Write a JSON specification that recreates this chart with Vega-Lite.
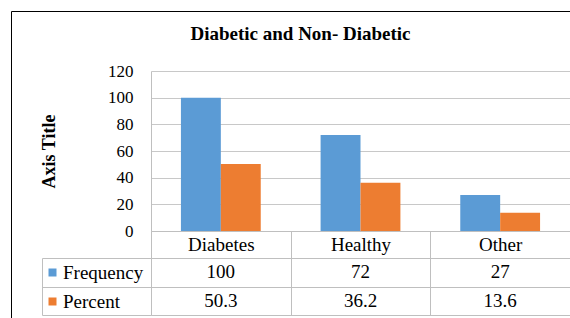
{
  "$schema": "https://vega.github.io/schema/vega-lite/v6.json",
  "autosize": {"type": "pad"},
  "padding": {"left": 10, "top": 10, "right": 0, "bottom": 0},
  "background": "white",
  "datasets": {
    "rows": [
      {"category": "Diabetes", "series": "Frequency", "value": 100},
      {"category": "Diabetes", "series": "Percent", "value": 50.3},
      {"category": "Healthy", "series": "Frequency", "value": 72},
      {"category": "Healthy", "series": "Percent", "value": 36.2},
      {"category": "Other", "series": "Frequency", "value": 27},
      {"category": "Other", "series": "Percent", "value": 13.6}
    ]
  },
  "spacing": 27,
  "bounds": "flush",
  "vconcat": [
    {
      "title": {"text": "Diabetic and Non- Diabetic", "font": "Times New Roman, Liberation Serif, DejaVu Serif, serif", "fontSize": 19, "fontWeight": "bold", "color": "black", "anchor": "middle", "dx": -60, "offset": 18},
      "width": 419,
      "height": 160,
      "data": {"name": "rows"},
      "mark": {"type": "bar"},
      "encoding": {
        "x": {"field": "category", "type": "nominal", "sort": ["Diabetes", "Healthy", "Other"],
          "scale": {"paddingInner": 0, "paddingOuter": 0},
          "axis": {"title": null, "labelAngle": 0, "tickBand": "extent", "tickSize": 27, "tickColor": "#bfbfbf", "domainColor": "#bfbfbf", "labelPadding": -13.5, "labelBaseline": "middle", "labelFont": "Times New Roman, Liberation Serif, DejaVu Serif, serif", "labelFontSize": 19, "labelColor": "black"}},
        "xOffset": {"field": "series", "type": "nominal", "sort": ["Frequency", "Percent"], "scale": {"paddingInner": 0, "paddingOuter": 0.75}},
        "y": {"field": "value", "type": "quantitative", "scale": {"domain": [0, 120], "nice": false},
          "axis": {"values": [0, 20, 40, 60, 80, 100, 120], "title": "Axis Title", "titleFont": "Times New Roman, Liberation Serif, DejaVu Serif, serif", "titleFontSize": 18, "titleFontWeight": "bold", "titleColor": "black", "titlePadding": 49, "labelFont": "Times New Roman, Liberation Serif, DejaVu Serif, serif", "labelFontSize": 17, "labelColor": "black", "labelPadding": 18, "ticks": false, "tickSize": 0, "domainColor": "#bfbfbf", "grid": true, "gridColor": "#c8c8c8"}},
        "color": {"field": "series", "type": "nominal", "sort": ["Frequency", "Percent"],
          "scale": {"domain": ["Frequency", "Percent"], "range": ["#5B9BD5", "#ED7D31"]},
          "legend": {"orient": "none", "legendX": -108, "legendY": 192, "title": null, "symbolType": "square", "symbolSize": 64, "symbolStrokeWidth": 0, "labelFont": "Times New Roman, Liberation Serif, DejaVu Serif, serif", "labelFontSize": 19, "labelColor": "black", "labelOffset": 1, "rowPadding": 9, "padding": 0}}
      }
    },
    {
      "width": 419,
      "height": 57,
      "data": {"name": "rows"},
      "resolve": {"axis": {"y": "independent"}},
      "layer": [
        {
          "mark": {"type": "text", "font": "Times New Roman, Liberation Serif, DejaVu Serif, serif", "fontSize": 19, "color": "black"},
          "encoding": {
            "x": {"field": "category", "type": "nominal", "sort": ["Diabetes", "Healthy", "Other"],
              "scale": {"paddingInner": 0, "paddingOuter": 0},
              "axis": {"orient": "top", "title": null, "grid": true, "tickBand": "extent", "gridColor": "#bfbfbf", "labels": false, "ticks": false, "domain": false}},
            "y": {"field": "series", "type": "nominal", "sort": ["Frequency", "Percent"],
              "scale": {"paddingInner": 0, "paddingOuter": 0},
              "axis": {"orient": "left", "title": null, "grid": true, "tickBand": "extent", "gridColor": "#bfbfbf", "tickSize": 109, "tickColor": "#bfbfbf", "labels": false, "domainColor": "#bfbfbf"}},
            "text": {"field": "value", "type": "quantitative"}
          }
        },
        {
          "mark": {"type": "text", "opacity": 0},
          "encoding": {
            "x": {"field": "category", "type": "nominal", "sort": ["Diabetes", "Healthy", "Other"]},
            "y": {"field": "series", "type": "nominal", "sort": ["Frequency", "Percent"],
              "axis": {"orient": "left", "offset": 109, "title": null, "grid": false, "labels": false, "ticks": false, "domainColor": "#bfbfbf"}},
            "size": {"field": "series", "type": "ordinal", "sort": ["Frequency", "Percent"],
              "legend": {"orient": "none", "legendX": -140, "legendY": -60, "title": null, "padding": 290, "strokeColor": "black", "symbolOpacity": 0, "labelOpacity": 0,
                "encode": {"legend": {"update": {"strokeWidth": {"value": 2}}}}}},
            "text": {"field": "value", "type": "quantitative"}
          }
        }
      ]
    }
  ],
  "config": {
    "view": {"stroke": null},
    "font": "Times New Roman, Liberation Serif, DejaVu Serif, serif"
  }
}
